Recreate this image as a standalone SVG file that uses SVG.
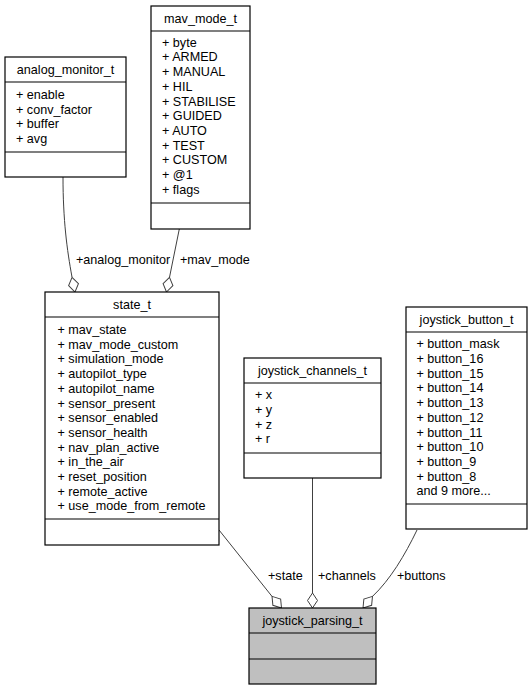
<svg xmlns="http://www.w3.org/2000/svg" width="532" height="691" viewBox="0 0 532 691">
<style>
text{font-family:"Liberation Sans",Arial,sans-serif;font-size:12.6px;fill:#000}
.t{text-anchor:middle}
.box{fill:#fff;stroke:#000;stroke-width:1.2}
.grey{fill:#bfbfbf}
.sep{stroke:#000;stroke-width:1.2}
.edge{fill:none;stroke:#404040;stroke-width:1}
.dia{fill:#fff;stroke:#404040;stroke-width:1}
</style>
<defs>
<polygon id="dm" points="0,0 5,-7.5 0,-15 -5,-7.5"/>
</defs>
<rect width="532" height="691" fill="#fff"/>

<g id="edges">
<path class="edge" d="M63,177 C63,220 67,250 72,277"/>
<use href="#dm" class="dia" transform="translate(75,292) rotate(-11.3)"/>
<text x="76" y="264">+analog_monitor</text>

<path class="edge" d="M179.3,229 L169.5,277.3"/>
<use href="#dm" class="dia" transform="translate(166.5,292) rotate(11.5)"/>
<text x="180" y="264">+mav_mode</text>

<path class="edge" d="M219,530 L272,596.4"/>
<use href="#dm" class="dia" transform="translate(281.5,608) rotate(-39.2)"/>
<text x="268" y="580">+state</text>

<path class="edge" d="M312.5,478 L312.5,593"/>
<use href="#dm" class="dia" transform="translate(312.5,608)"/>
<text x="318" y="580">+channels</text>

<path class="edge" d="M417,530 C405,555 390,580 372.5,596.4"/>
<use href="#dm" class="dia" transform="translate(363,608) rotate(39.2)"/>
<text x="397" y="580">+buttons</text>
</g>

<g id="analog_monitor_t">
<rect class="box" x="5" y="57" width="121" height="120"/>
<line class="sep" x1="5" y1="82" x2="126" y2="82"/>
<line class="sep" x1="5" y1="152" x2="126" y2="152"/>
<text class="t" x="65.5" y="74">analog_monitor_t</text>
<text x="16" y="99">+ enable</text>
<text x="16" y="113.7">+ conv_factor</text>
<text x="16" y="128.4">+ buffer</text>
<text x="16" y="143.1">+ avg</text>
</g>

<g id="mav_mode_t">
<rect class="box" x="151" y="6" width="99" height="223"/>
<line class="sep" x1="151" y1="31" x2="250" y2="31"/>
<line class="sep" x1="151" y1="203" x2="250" y2="203"/>
<text class="t" x="200.5" y="22.5">mav_mode_t</text>
<text x="162" y="46.7">+ byte</text>
<text x="162" y="61.4">+ ARMED</text>
<text x="162" y="76.1">+ MANUAL</text>
<text x="162" y="90.8">+ HIL</text>
<text x="162" y="105.5">+ STABILISE</text>
<text x="162" y="120.2">+ GUIDED</text>
<text x="162" y="134.9">+ AUTO</text>
<text x="162" y="149.6">+ TEST</text>
<text x="162" y="164.3">+ CUSTOM</text>
<text x="162" y="179">+ @1</text>
<text x="162" y="193.7">+ flags</text>
</g>

<g id="state_t">
<rect class="box" x="45" y="292" width="174" height="253"/>
<line class="sep" x1="45" y1="317" x2="219" y2="317"/>
<line class="sep" x1="45" y1="519" x2="219" y2="519"/>
<text class="t" x="132" y="309">state_t</text>
<text x="57.5" y="334">+ mav_state</text>
<text x="57.5" y="348.7">+ mav_mode_custom</text>
<text x="57.5" y="363.4">+ simulation_mode</text>
<text x="57.5" y="378.1">+ autopilot_type</text>
<text x="57.5" y="392.8">+ autopilot_name</text>
<text x="57.5" y="407.5">+ sensor_present</text>
<text x="57.5" y="422.2">+ sensor_enabled</text>
<text x="57.5" y="436.9">+ sensor_health</text>
<text x="57.5" y="451.6">+ nav_plan_active</text>
<text x="57.5" y="466.3">+ in_the_air</text>
<text x="57.5" y="481">+ reset_position</text>
<text x="57.5" y="495.7">+ remote_active</text>
<text x="57.5" y="510.4">+ use_mode_from_remote</text>
</g>

<g id="joystick_channels_t">
<rect class="box" x="244" y="358" width="137" height="120"/>
<line class="sep" x1="244" y1="383" x2="381" y2="383"/>
<line class="sep" x1="244" y1="453" x2="381" y2="453"/>
<text class="t" x="312.5" y="375">joystick_channels_t</text>
<text x="255" y="399.3">+ x</text>
<text x="255" y="414">+ y</text>
<text x="255" y="428.7">+ z</text>
<text x="255" y="443.4">+ r</text>
</g>

<g id="joystick_button_t">
<rect class="box" x="406" y="307" width="121" height="222"/>
<line class="sep" x1="406" y1="332" x2="527" y2="332"/>
<line class="sep" x1="406" y1="504" x2="527" y2="504"/>
<text class="t" x="466.5" y="324">joystick_button_t</text>
<text x="416.5" y="348.3">+ button_mask</text>
<text x="416.5" y="363">+ button_16</text>
<text x="416.5" y="377.7">+ button_15</text>
<text x="416.5" y="392.4">+ button_14</text>
<text x="416.5" y="407.1">+ button_13</text>
<text x="416.5" y="421.8">+ button_12</text>
<text x="416.5" y="436.5">+ button_11</text>
<text x="416.5" y="451.2">+ button_10</text>
<text x="416.5" y="465.9">+ button_9</text>
<text x="416.5" y="480.6">+ button_8</text>
<text x="416.5" y="495.3">and 9 more...</text>
</g>

<g id="joystick_parsing_t">
<rect class="box grey" x="249" y="608" width="127" height="76"/>
<line class="sep" x1="249" y1="633" x2="376" y2="633"/>
<line class="sep" x1="249" y1="659" x2="376" y2="659"/>
<text class="t" x="312.5" y="625">joystick_parsing_t</text>
</g>
</svg>
